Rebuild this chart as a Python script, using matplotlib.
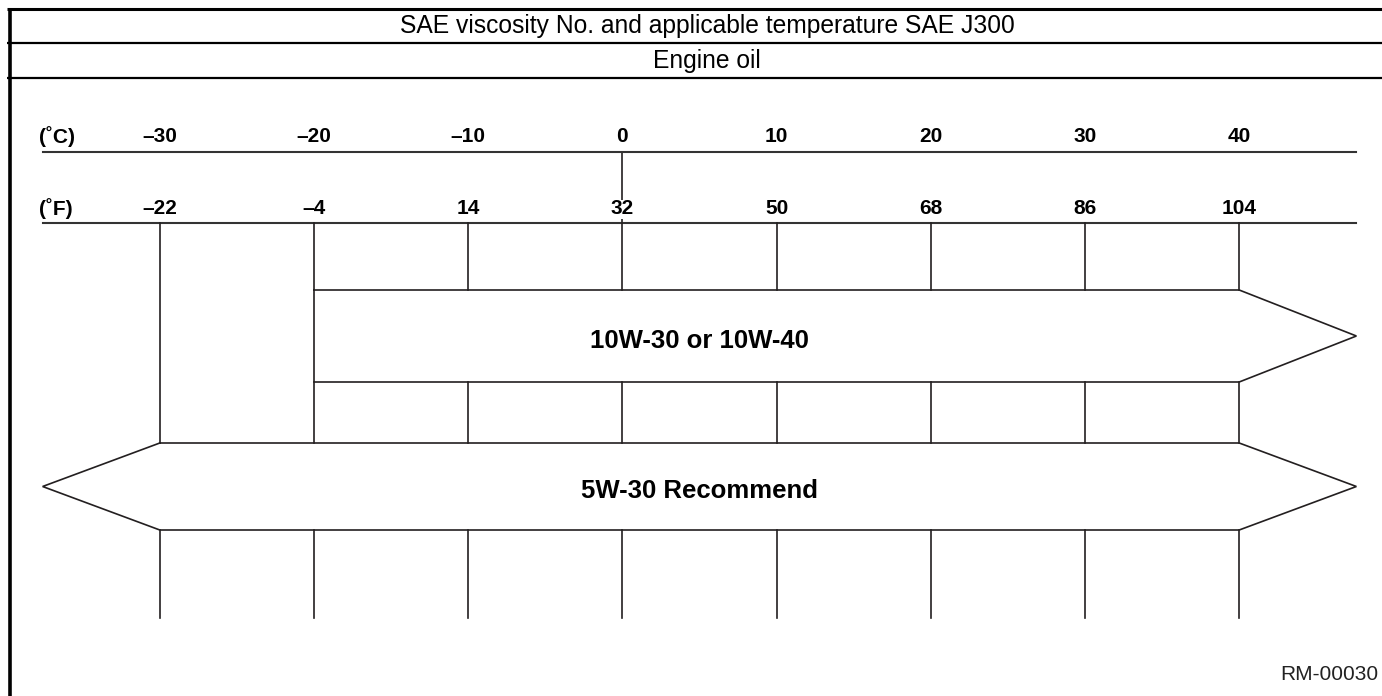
import matplotlib
matplotlib.use("Agg")
import matplotlib.pyplot as plt

# temperature scale (deg C ticks and matching deg F labels)
celsius = [-30, -20, -10, 0, 10, 20, 30, 40]
fahrenheit = [-22, -4, 14, 32, 50, 68, 86, 104]

# oil grades: label, low end (C), high end (C), arrow on left, arrow on right
grade_10w = ("10W-30 or 10W-40", -20, 40, False, True)
grade_5w = ("5W-30 Recommend", -30, 40, True, True)

title = "SAE viscosity No. and applicable temperature SAE J300"
subtitle = "Engine oil"
figure_id = "RM-00030"

plt.rcParams['font.family'] = ['Liberation Sans', 'DejaVu Sans']

W, H = 1382, 696
fig = plt.figure(figsize=(W / 100, H / 100), dpi=100)
ax = fig.add_axes([0, 0, 1, 1])
ax.axis("off")

# x in deg C, y in pixel rows (top = 0)
px_per_deg = 15.42
x0 = 5 - 699.5 / px_per_deg
ax.set_xlim(x0, x0 + W / px_per_deg)
ax.set_ylim(H, 0)

line_c = "#231f20"
tip = 7.6

# header frame
ax.plot([9.5 / W, 9.5 / W], [1 - 8 / H, 0], transform=ax.transAxes, color="black", lw=2.6, solid_capstyle="butt")
for yy, lw in [(9, 2.2), (43, 1.6), (78, 1.6)]:
    ax.plot([7 / W, 1], [1 - yy / H] * 2, transform=ax.transAxes, color="black", lw=lw, solid_capstyle="butt")
ax.text(707 / W, 1 - 26 / H, title, transform=ax.transAxes, ha="center", va="center", fontsize=17.7)
ax.text(707 / W, 1 - 61 / H, subtitle, transform=ax.transAxes, ha="center", va="center", fontsize=17.7)
ax.text(1378 / W, 1 - 675 / H, figure_id, transform=ax.transAxes, ha="right", va="center", fontsize=15, color="#222222")

# scale lines
y_c, y_f = 152, 223
lo, hi = celsius[0] - tip, celsius[-1] + tip
ax.plot([lo, hi], [y_c, y_c], color="#333333", lw=1.5)
ax.plot([lo, hi], [y_f, y_f], color="#333333", lw=1.5)
ax.text(lo - 0.25, y_c - 15, "(˚C)", ha="left", va="center", fontsize=15, fontweight="bold")
ax.text(lo - 0.25, y_f - 14, "(˚F)", ha="left", va="center", fontsize=15, fontweight="bold")
for c, f in zip(celsius, fahrenheit):
    ax.text(c, y_c - 15, str(c).replace("-", "–"), ha="center", va="center", fontsize=15, fontweight="bold")
    ax.text(c, y_f - 14, str(f).replace("-", "–"), ha="center", va="center", fontsize=15, fontweight="bold",
            bbox=dict(facecolor="white", edgecolor="none", pad=0) if c == 0 else None)
# 0 deg C link between the two scales
ax.plot([0, 0], [y_c, y_f], color=line_c, lw=1.2, zorder=0)

# bands
b10_top, b10_bot = 290, 382
b5_top, b5_bot = 443, 530
bottom_end = 618


def band(grade, top, bot):
    label, a, b, left_arrow, right_arrow = grade
    mid = (top + bot) / 2
    xs = [a, b]
    ys = [top, top]
    if right_arrow:
        xs += [b + tip, b]
        ys += [mid, bot]
    else:
        xs += [b]
        ys += [bot]
    xs += [a]
    ys += [bot]
    if left_arrow:
        xs += [a - tip, a]
        ys += [mid, top]
    else:
        xs += [a]
        ys += [top]
    ax.plot(xs, ys, color=line_c, lw=1.2, solid_joinstyle="miter")
    ax.text((celsius[0] + celsius[-1]) / 2, mid + 5, label, ha="center", va="center", fontsize=18.5, fontweight="bold")


band(grade_10w, b10_top, b10_bot)
band(grade_5w, b5_top, b5_bot)

# vertical tick lines
for c in celsius:
    if grade_10w[1] <= c <= grade_10w[2]:
        ax.plot([c, c], [y_f, b10_top], color=line_c, lw=1.2)
        ax.plot([c, c], [b10_bot, b5_top], color=line_c, lw=1.2)
    else:
        ax.plot([c, c], [y_f, b5_top], color=line_c, lw=1.2)
    ax.plot([c, c], [b5_bot, bottom_end], color=line_c, lw=1.2)

fig.savefig("out.png", dpi=100)
